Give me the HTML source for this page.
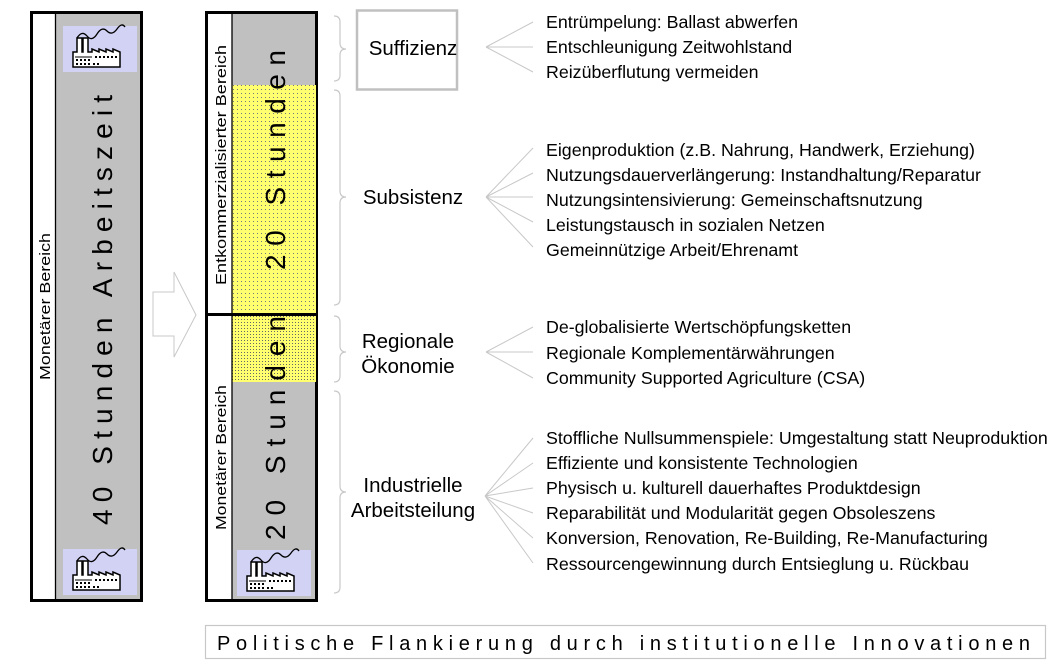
<!DOCTYPE html>
<html><head><meta charset="utf-8"><style>
html,body{margin:0;padding:0;background:#fff;}
svg{display:block;}
text{font-family:"Liberation Sans",Arial,sans-serif;fill:#000;}
</style></head><body>
<svg width="1064" height="665" viewBox="0 0 1064 665" xmlns="http://www.w3.org/2000/svg">
<defs>
<pattern id="dots" width="4" height="4" patternUnits="userSpaceOnUse">
<rect width="4" height="4" fill="#ffff70"/><rect x="1" y="1" width="1" height="1" fill="#777"/>
</pattern>
<pattern id="dots2" width="3" height="3" patternUnits="userSpaceOnUse">
<rect width="3" height="3" fill="#ffff70"/><rect x="1" y="1" width="1" height="1" fill="#666"/>
</pattern>
<g id="fac">
<rect x="0" y="0" width="74" height="46" fill="#d2d2f5"/>
<path d="M14 12 q5 -8 10 -2 t10 -2 t10 -3 t10 -2 t8 -2" fill="none" stroke="#000" stroke-width="1.3"/>
<path d="M10 41 V26 H14 V12 H19 V26 H20 V12 H25 V26 H29 V23 L36 26 V23 L43 26 V23 L50 26 V23 L57 26 V41 Z" fill="#fff" stroke="#000" stroke-width="1.5"/>
<path d="M12 31 H29" stroke="#000" stroke-width="1"/>
<g fill="#000">
<rect x="13" y="33" width="2" height="2"/><rect x="17" y="33" width="2" height="2"/><rect x="21" y="33" width="2" height="2"/><rect x="25" y="33" width="2" height="2"/>
<rect x="13" y="37" width="2" height="2"/><rect x="17" y="37" width="2" height="2"/><rect x="21" y="37" width="2" height="2"/><rect x="25" y="37" width="2" height="2"/>
<rect x="32" y="30" width="2" height="2"/><rect x="36" y="30" width="2" height="2"/><rect x="40" y="30" width="2" height="2"/><rect x="44" y="30" width="2" height="2"/><rect x="48" y="30" width="2" height="2"/><rect x="52" y="30" width="2" height="2"/>
<rect x="30" y="37" width="2" height="2"/><rect x="34" y="37" width="2" height="2"/>
</g>
</g>
</defs>

<rect x="31.5" y="12.5" width="110" height="588" fill="#c0c0c0" stroke="#000" stroke-width="3"/>
<rect x="33" y="14" width="22" height="585" fill="#fff"/>
<line x1="55.5" y1="13" x2="55.5" y2="600" stroke="#000" stroke-width="1.3"/>
<use href="#fac" x="63" y="26"/>
<use href="#fac" x="63" y="549"/>
<text transform="translate(50,380) rotate(-90)" font-size="15" textLength="147" lengthAdjust="spacingAndGlyphs">Monetärer Bereich</text>
<text transform="translate(112,525) rotate(-90)" font-size="28" textLength="430" lengthAdjust="spacing">40 Stunden Arbeitszeit</text>

<path d="M153 292 H174 V272 L196 315 L174 357 V336 H153 Z" fill="#fff" stroke="#c8c8c8" stroke-width="1"/>

<rect x="206.5" y="12.5" width="110" height="588" fill="#c0c0c0" stroke="#000" stroke-width="3"/>
<rect x="232" y="85" width="84" height="229" fill="url(#dots)"/>
<rect x="232" y="315" width="84" height="67" fill="url(#dots2)"/>
<rect x="208" y="14" width="24" height="585" fill="#fff"/>
<line x1="232" y1="13" x2="232" y2="600" stroke="#000" stroke-width="1.3"/>
<line x1="206" y1="314.5" x2="317" y2="314.5" stroke="#000" stroke-width="3"/>
<use href="#fac" x="237" y="550"/>
<text transform="translate(226,285) rotate(-90)" font-size="15" textLength="240" lengthAdjust="spacingAndGlyphs">Entkommerzialisierter  Bereich</text>
<text transform="translate(226,530) rotate(-90)" font-size="15" textLength="145" lengthAdjust="spacingAndGlyphs">Monetärer Bereich</text>
<text transform="translate(285,270) rotate(-90)" font-size="28" textLength="220" lengthAdjust="spacing">20 Stunden</text>
<text transform="translate(285,540) rotate(-90)" font-size="28" textLength="224" lengthAdjust="spacing">20 Stunden</text>

<g fill="none" stroke="#c8c8c8" stroke-width="1.2">
<path d="M334 16 q6 0 6 6 V43 q0 6 6 6 q-6 0 -6 6 V75 q0 6 -6 6"/>
<path d="M334 90 q6 0 6 6 V191 q0 6 6 6 q-6 0 -6 6 V299 q0 6 -6 6"/>
<path d="M334 316 q6 0 6 6 V346 q0 6 6 6 q-6 0 -6 6 V376 q0 6 -6 6"/>
<path d="M334 391 q6 0 6 6 V486 q0 6 6 6 q-6 0 -6 6 V587 q0 6 -6 6"/>
</g>

<rect x="357" y="10.5" width="100" height="79" fill="#fff" stroke="#c0c0c0" stroke-width="2.5"/>
<g font-size="20.5" text-anchor="middle">
<text x="413" y="55">Suffizienz</text>
<text x="413" y="204">Subsistenz</text>
<text x="408" y="348">Regionale</text>
<text x="408" y="373">Ökonomie</text>
<text x="413" y="492">Industrielle</text>
<text x="413" y="517">Arbeitsteilung</text>
</g>

<g stroke="#c8c8c8" stroke-width="1">
<path d="M486 47 L533 22 M486 47 L533 47 M486 47 L533 72"/>
<path d="M486 197 L533 148 M486 197 L533 173 M486 197 L533 197 M486 197 L533 222 M486 197 L533 247"/>
<path d="M486 352 L533 327 M486 352 L533 352 M486 352 L533 378"/>
<path d="M485 496 L533 438 M485 496 L533 463 M485 496 L533 488 M485 496 L533 513 M485 496 L533 538 M485 496 L533 563"/>
</g>

<g font-size="17.8">
<text x="546" y="28">Entrümpelung: Ballast abwerfen</text>
<text x="546" y="53">Entschleunigung Zeitwohlstand</text>
<text x="546" y="78">Reizüberflutung vermeiden</text>
<text x="546" y="156">Eigenproduktion (z.B. Nahrung, Handwerk, Erziehung)</text>
<text x="546" y="181">Nutzungsdauerverlängerung: Instandhaltung/Reparatur</text>
<text x="546" y="206">Nutzungsintensivierung: Gemeinschaftsnutzung</text>
<text x="546" y="231">Leistungstausch in sozialen Netzen</text>
<text x="546" y="256">Gemeinnützige Arbeit/Ehrenamt</text>
<text x="546" y="333">De-globalisierte Wertschöpfungsketten</text>
<text x="546" y="359">Regionale Komplementärwährungen</text>
<text x="546" y="384">Community Supported Agriculture (CSA)</text>
<text x="546" y="444">Stoffliche Nullsummenspiele: Umgestaltung statt Neuproduktion</text>
<text x="546" y="469">Effiziente und konsistente Technologien</text>
<text x="546" y="494">Physisch u. kulturell dauerhaftes Produktdesign</text>
<text x="546" y="519">Reparabilität und Modularität gegen Obsoleszens</text>
<text x="546" y="544">Konversion, Renovation, Re-Building, Re-Manufacturing</text>
<text x="546" y="570">Ressourcengewinnung durch Entsieglung u. Rückbau</text>
</g>

<rect x="205.5" y="625.5" width="840" height="33" fill="#fff" stroke="#c8c8c8" stroke-width="1.2"/>
<text x="217" y="650" font-size="20" textLength="813" lengthAdjust="spacing">Politische Flankierung durch institutionelle Innovationen</text>
</svg>
</body></html>
